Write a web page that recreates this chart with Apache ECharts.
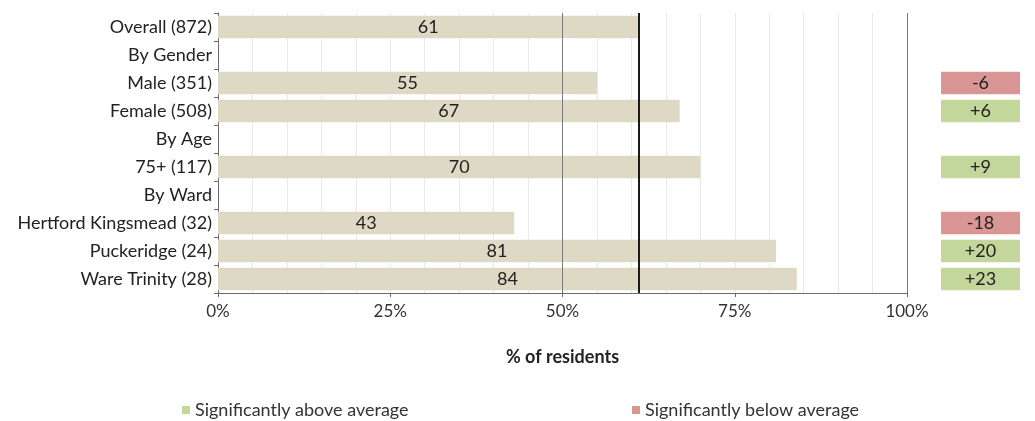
<!DOCTYPE html>
<html>
<head>
<meta charset="utf-8">
<script src="https://cdn.jsdelivr.net/npm/echarts@6/dist/echarts.min.js"></script>
<style>
html,body{margin:0;padding:0;background:#fff;}
#c{width:1035px;height:421px;}
</style>
</head>
<body>
<div id="c"></div>
<script>
const categories = ["Overall (872)","By Gender","Male (351)","Female (508)","By Age","75+ (117)","By Ward","Hertford Kingsmead (32)","Puckeridge (24)","Ware Trinity (28)"];
const values = [61,null,55,67,null,70,null,43,81,84];
const diffs = [null,null,-6,6,null,9,null,-18,20,23];
const averageValue = 61;
const xTicks = [0,25,50,75,100];
const refLines = [50,100];

const FONT = 'Lato, "Open Sans", sans-serif';
const aboveData = diffs.map(d => (d !== null && d > 0) ? {value:1, diff:d} : {value:null});
const belowData = diffs.map(d => (d !== null && d < 0) ? {value:1, diff:d} : {value:null});
const fmtDiff = p => { const d = p.data.diff; return d > 0 ? '+' + d : String(d); };

const chart = echarts.init(document.getElementById('c'));
chart.setOption({
  animation:false,
  backgroundColor:'#fff',
  textStyle:{fontFamily:FONT},
  grid:[
    {left:218, right:128, top:13, height:280, containLabel:false},
    {left:941, width:79, top:13, height:280, containLabel:false}
  ],
  legend:[
    {left:177, top:396, itemWidth:8, itemHeight:8, itemGap:10, icon:'rect',
     data:['Significantly above average'],
     textStyle:{fontFamily:FONT, fontSize:18, color:'#333'}},
    {left:627, top:396, itemWidth:8, itemHeight:8, itemGap:10, icon:'rect',
     data:['Significantly below average'],
     textStyle:{fontFamily:FONT, fontSize:18, color:'#333'}}
  ],
  xAxis:[
    {type:'value', gridIndex:0, min:xTicks[0], max:xTicks[xTicks.length-1], interval:25,
     axisLine:{show:true, lineStyle:{color:'#6b6b6b', width:1}},
     axisTick:{show:true, length:4, lineStyle:{color:'#6b6b6b'}},
     axisLabel:{formatter:'{value}%', fontFamily:FONT, fontSize:17, color:'#333', margin:10},
     splitLine:{show:true, lineStyle:{color:'#e9e9e9', width:1}},
     minorTick:{show:false, splitNumber:5},
     minorSplitLine:{show:true, lineStyle:{color:'#e9e9e9', width:1}},
     name:'% of residents', nameLocation:'middle', nameGap:55,
     nameTextStyle:{fontFamily:FONT, fontSize:18, fontWeight:'bold', color:'#222'}},
    {type:'value', gridIndex:1, min:0, max:1, show:false}
  ],
  yAxis:[
    {type:'category', gridIndex:0, data:categories, inverse:true,
     axisLine:{show:true, lineStyle:{color:'#6b6b6b', width:1}},
     axisTick:{show:true, length:4, lineStyle:{color:'#6b6b6b'}},
     axisLabel:{fontFamily:FONT, fontSize:18, color:'#222', margin:6},
     splitLine:{show:false}},
    {type:'category', gridIndex:1, data:categories, inverse:true, show:false}
  ],
  series:[
    {type:'bar', name:'values', xAxisIndex:0, yAxisIndex:0, data:values,
     barCategoryGap:'20%',
     itemStyle:{color:'#ddd9c4'},
     label:{show:true, position:'inside', fontFamily:FONT, fontSize:18, color:'#222'},
     markLine:{silent:true, symbol:'none', label:{show:false},
       data:refLines.map(v => ({xAxis:v})),
       lineStyle:{color:'#7a7a7a', width:1, type:'solid'}},
     z:2},
    {type:'line', name:'avg', xAxisIndex:0, yAxisIndex:0, data:[],
     markLine:{silent:true, symbol:'none', label:{show:false},
       data:[{xAxis:averageValue}],
       lineStyle:{color:'#1a1a1a', width:2, type:'solid'}},
     z:5},
    {type:'bar', name:'Significantly above average', xAxisIndex:1, yAxisIndex:1, stack:'d',
     data:aboveData, barCategoryGap:'20%',
     itemStyle:{color:'#c3d69b'},
     label:{show:true, position:'inside', formatter:fmtDiff, fontFamily:FONT, fontSize:18, color:'#222'}},
    {type:'bar', name:'Significantly below average', xAxisIndex:1, yAxisIndex:1, stack:'d',
     data:belowData, barCategoryGap:'20%',
     itemStyle:{color:'#d99694'},
     label:{show:true, position:'inside', formatter:fmtDiff, fontFamily:FONT, fontSize:18, color:'#222'}}
  ]
});
</script>
</body>
</html>
